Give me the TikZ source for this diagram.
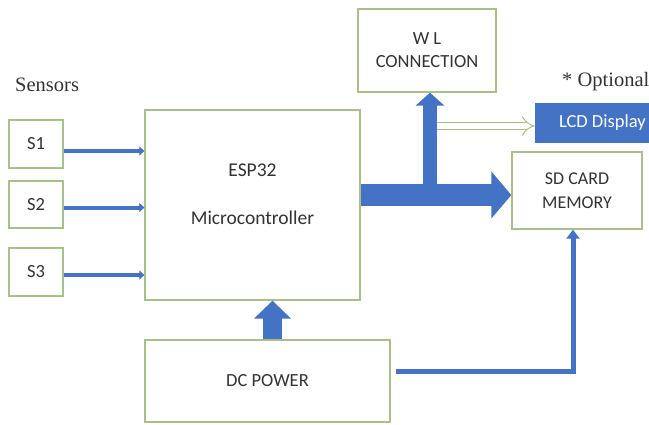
\documentclass[tikz,border=0pt]{standalone}
\usepackage{fontspec}
\setmainfont{Carlito}
\newfontfamily\seriffont{Liberation Serif}
\usetikzlibrary{arrows.meta,calc}
\definecolor{boxgreen}{RGB}{169,192,138}
\definecolor{arrblue}{RGB}{68,114,196}
\definecolor{txt}{RGB}{51,51,51}
\begin{document}
\begin{tikzpicture}[x=1pt,y=-1pt,
  box/.style={draw=boxgreen, line width=1.3pt, fill=white, text=txt,
    font=\fontsize{18.5}{24}\selectfont, inner sep=0pt, align=center},
  sensarrow/.style={draw=arrblue, line width=4pt, -{Triangle[length=5pt,width=9pt]}},
  lbl/.style={text=txt, font=\seriffont\fontsize{20.5}{24}\selectfont, inner sep=0pt}]
\useasboundingbox (0,0) rectangle (649,424);
\clip (0,0) rectangle (649,424);

% nodes
\node[lbl, anchor=west] (sens) at (15,85) {Sensors};
\node[lbl, anchor=west] (opt) at (562,82) {* Optional};

\node[box, minimum width=54pt, minimum height=48pt] (s1) at (36,144) {S1};
\node[box, minimum width=54pt, minimum height=47pt] (s2) at (36,204.5) {S2};
\node[box, minimum width=54pt, minimum height=48pt] (s3) at (36,272) {S3};

\node[box, minimum width=215pt, minimum height=190pt] (esp) at (252.5,205) {};
\node[text=txt, font=\fontsize{19.5}{22}\selectfont] (esplbl1) at ($(esp.center)+(0,-35)$) {ESP32};
\node[text=txt, font=\fontsize{19.5}{22}\selectfont] (esplbl2) at ($(esp.center)+(0,13)$) {Microcontroller};

\node[box, minimum width=138pt, minimum height=83pt, font=\fontsize{18.5}{23}\selectfont] (wl) at (427,50.5) {W L\\CONNECTION};
\node[fill=arrblue, minimum width=130pt, minimum height=40pt, inner sep=0pt] (lcd) at (600,123) {};
\node[text=white, font=\fontsize{18.5}{21}\selectfont, inner sep=0pt, anchor=west] (lcdlbl) at ($(lcd.west)+(24,0)$) {LCD Display};
\node[box, minimum width=130pt, minimum height=77pt, font=\fontsize{18}{24}\selectfont] (sd) at (577,190.5) {SD CARD\\MEMORY};
\node[box, minimum width=245pt, minimum height=82pt] (dc) at (267.5,381) {DC POWER};

% sensor arrows
\coordinate (a1) at ($(s1.east)+(0,7)$);
\coordinate (a2) at ($(s2.east)+(0,3)$);
\coordinate (a3) at ($(s3.east)+(0,3)$);
\draw[sensarrow] (a1) -- (a1 -| esp.west);
\draw[sensarrow] (a2) -- (a2 -| esp.west);
\draw[sensarrow] (a3) -- (a3 -| esp.west);

% big arrow to SD card
\coordinate (b1) at ($(esp.east)+(0,-10)$);
\draw[draw=arrblue, line width=22pt, -{Triangle[length=20pt,width=46pt]}] (b1) -- (b1 -| sd.west);

% vertical arrow to W L connection
\coordinate (v) at (430,195);
\draw[draw=arrblue, line width=14pt, -{Triangle[length=13pt,width=28pt]}] (v) -- (v |- wl.south);

% optional outline arrow to LCD
\coordinate (o) at (437,126);
\draw[draw=boxgreen, line width=1pt, double=white, double distance=6pt, -{Implies}] (o) -- (o -| lcd.west);

% DC power to ESP32
\coordinate (d1) at ($(dc.north)+(5,0)$);
\draw[draw=arrblue, line width=19pt, -{Triangle[length=18pt,width=36pt]}] (d1) -- (d1 |- esp.south);

% DC power to SD card
\coordinate (p) at ($(dc.east)+(5,-10)$);
\coordinate (q) at ($(sd.south)+(-4,0)$);
\draw[draw=arrblue, line width=5pt, line join=miter, -{Triangle[length=9pt,width=13pt]}] (p) -| (q);
\end{tikzpicture}
\end{document}
